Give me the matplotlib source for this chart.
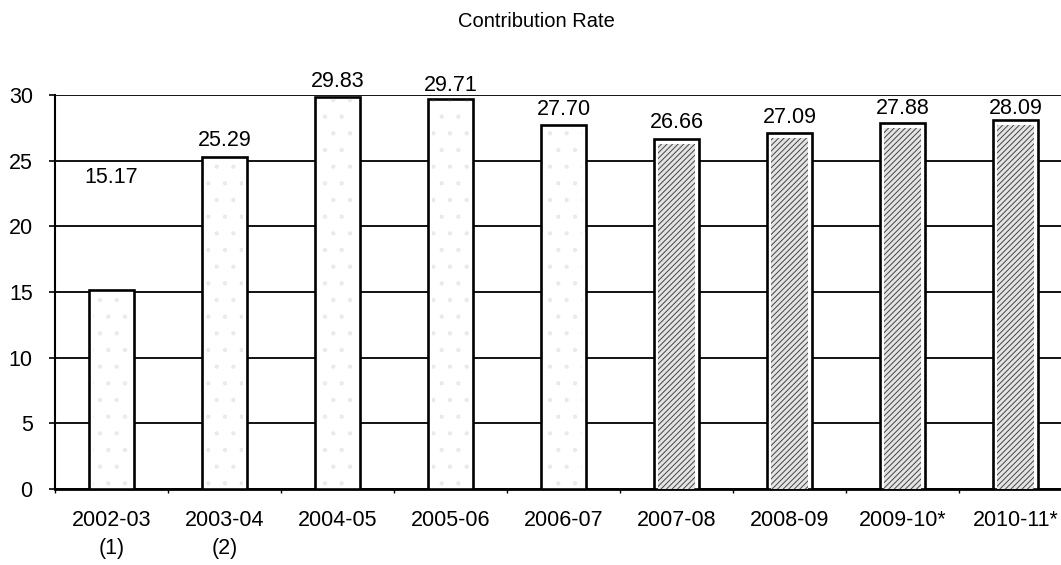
import matplotlib.pyplot as plt
import numpy as np

plt.rcParams['font.family'] = ['Liberation Sans', 'DejaVu Sans']
plt.rcParams['hatch.linewidth'] = 0.7

years = ["2002-03\n(1)", "2003-04\n(2)", "2004-05", "2005-06", "2006-07",
         "2007-08", "2008-09", "2009-10*", "2010-11*"]
rate = [15.17, 25.29, 29.83, 29.71, 27.70, 26.66, 27.09, 27.88, 28.09]
# first five years actual, the rest estimated (hatched)
actual = [True, True, True, True, True, False, False, False, False]
# label lift above bar top, in points
lift = [73, 4, 4, 2, 4, 4, 4, 3, 1]

fig = plt.figure(figsize=(10.61, 5.65), dpi=100)
ax = fig.add_axes([0.0518, 0.1345, 0.9585, 0.697])

x = np.arange(len(rate))
w = 0.4

for i in range(len(rate)):
    ax.bar(x[i], rate[i], w, facecolor='white', edgecolor='black',
           linewidth=1.9, zorder=3)
    if actual[i]:
        # sparse speckle fill
        ax.bar(x[i], rate[i], w * 0.8, facecolor='none', edgecolor='#777777',
               hatch='.', linewidth=0, alpha=0.12, zorder=3)
    else:
        ax.bar(x[i], rate[i] - 0.35, w * 0.8, facecolor='#e4e4e4',
               edgecolor='#444444', hatch='//////', linewidth=0, zorder=3)
    ax.annotate(f"{rate[i]:.2f}", (x[i], rate[i]), xytext=(0, lift[i]),
                textcoords='offset points', ha='center', va='bottom',
                fontsize=15.5, annotation_clip=False)

ax.set_xlim(-0.5, len(rate) - 0.5)
ax.set_ylim(0, 30)
ax.set_yticks(range(0, 31, 5))
ax.yaxis.grid(True, color='black', linewidth=1.3, zorder=0)
ax.set_axisbelow(True)

ax.set_xticks(x)
ax.set_xticklabels(years, fontsize=15.5, linespacing=1.45, va='top')
ax.set_xticks(np.arange(len(rate) + 1) - 0.5, minor=True)
ax.tick_params(axis='x', which='major', length=0, pad=15)
ax.tick_params(axis='x', which='minor', length=3, width=1)
ax.tick_params(axis='y', labelsize=15.5, length=4, width=1.2, pad=12)

for s in ['top', 'right']:
    ax.spines[s].set_visible(False)
ax.spines['left'].set_linewidth(1.5)
ax.spines['bottom'].set_linewidth(2)

fig.text(0.506, 0.962, "Contribution Rate", ha='center', va='center', fontsize=14.5)

fig.savefig('out.png', dpi=100)
